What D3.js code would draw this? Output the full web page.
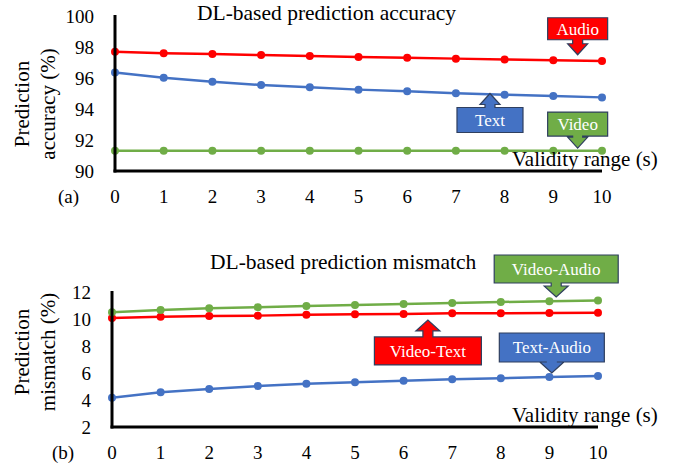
<!DOCTYPE html>
<html>
<head>
<meta charset="utf-8">
<script src="https://cdnjs.cloudflare.com/ajax/libs/d3/7.8.5/d3.min.js"></script>
<style>
  html, body { margin: 0; padding: 0; background: #fff; }
</style>
</head>
<body>
<div id="chart"></div>
<script>
// validity range (s)
const validity = [0, 1, 2, 3, 4, 5, 6, 7, 8, 9, 10];

// (a) prediction accuracy (%)
const accAudio = [97.7, 97.6, 97.55, 97.48, 97.42, 97.36, 97.3, 97.25, 97.2, 97.15, 97.1];
const accText  = [96.35, 96.02, 95.76, 95.55, 95.4, 95.25, 95.15, 95.02, 94.92, 94.84, 94.75];
const accVideo = [91.3, 91.3, 91.3, 91.3, 91.3, 91.3, 91.3, 91.3, 91.3, 91.3, 91.3];
const accTicks = [90, 92, 94, 96, 98, 100];

// (b) prediction mismatch (%)
const misVideoAudio = [10.5, 10.67, 10.79, 10.87, 10.96, 11.04, 11.12, 11.19, 11.26, 11.31, 11.37];
const misVideoText  = [10.07, 10.17, 10.22, 10.25, 10.31, 10.35, 10.37, 10.42, 10.42, 10.44, 10.47];
const misTextAudio  = [4.17, 4.57, 4.81, 5.03, 5.2, 5.31, 5.43, 5.53, 5.62, 5.7, 5.78];
const misTicks = [2, 4, 6, 8, 10, 12];

const RED = "#ff0000", BLUE = "#4472c4", GREEN = "#70ad47";
const FONT = "'Liberation Serif', 'Times New Roman', Times, serif";

const panels = [
  {
    title: "DL-based prediction accuracy", titleX: 197, titleY: 20,
    tag: "(a)", tagX: 58,
    ylab: ["Prediction", "accuracy (%)"], ylabY: 104,
    xRange: [115, 602], yRange: [171, 16], yDomain: [90, 100], ticks: accTicks,
    yTickX: 94,
    series: [
      {values: accVideo, color: GREEN},
      {values: accText, color: BLUE},
      {values: accAudio, color: RED}
    ],
    notes: [
      {label: "Audio", color: RED, x: 9.5, y: 97.5, dir: "down", w: 60, h: 22, gap: 15},
      {label: "Text", color: BLUE, x: 7.7, y: 95.0, dir: "up", w: 66, h: 25, gap: 14},
      {label: "Video", color: GREEN, x: 9.5, y: 91.48, dir: "down", w: 60, h: 24, gap: 12}
    ]
  },
  {
    title: "DL-based prediction mismatch", titleX: 210, titleY: 269,
    tag: "(b)", tagX: 52,
    ylab: ["Prediction", "mismatch (%)"], ylabY: 352,
    xRange: [112, 598], yRange: [427, 292], yDomain: [2, 12], ticks: misTicks,
    yTickX: 91,
    series: [
      {values: misTextAudio, color: BLUE},
      {values: misVideoText, color: RED},
      {values: misVideoAudio, color: GREEN}
    ],
    notes: [
      {label: "Video-Audio", color: GREEN, x: 9.14, y: 11.63, dir: "down", w: 124, h: 28, gap: 14},
      {label: "Video-Text", color: RED, x: 6.5, y: 9.93, dir: "up", w: 107, h: 28, gap: 17},
      {label: "Text-Audio", color: BLUE, x: 9.05, y: 6.0, dir: "down", w: 105, h: 29, gap: 11}
    ]
  }
];

const svg = d3.select("#chart").append("svg")
  .attr("width", 682).attr("height", 464)
  .attr("font-family", FONT);

panels.forEach(p => {
  const x = d3.scaleLinear().domain([0, 10]).range(p.xRange);
  const y = d3.scaleLinear().domain(p.yDomain).range(p.yRange);
  const g = svg.append("g");

  // series lines + markers
  const line = d3.line().x((d, i) => x(validity[i])).y(d => y(d));
  p.series.forEach(s => {
    g.append("path").datum(s.values)
      .attr("d", line).attr("fill", "none")
      .attr("stroke", s.color).attr("stroke-width", 2.5);
    g.selectAll(null).data(s.values).enter().append("circle")
      .attr("cx", (d, i) => x(validity[i])).attr("cy", d => y(d))
      .attr("r", 4).attr("fill", s.color);
  });

  // axes (plain lines, no tick marks)
  const x0 = p.xRange[0], yb = p.yRange[0];
  g.append("line").attr("x1", x0).attr("x2", x0)
    .attr("y1", p.yRange[1] - 1).attr("y2", yb + 1.5)
    .attr("stroke", "#000").attr("stroke-width", 3);
  g.append("line").attr("x1", x0 - 1.5).attr("x2", p.xRange[1])
    .attr("y1", yb).attr("y2", yb)
    .attr("stroke", "#000").attr("stroke-width", 3);

  g.selectAll(null).data(p.ticks).enter().append("text")
    .attr("x", p.yTickX).attr("y", d => y(d)).attr("dy", "0.35em")
    .attr("text-anchor", "end").attr("font-size", 19).text(d => d);

  g.selectAll(null).data(validity).enter().append("text")
    .attr("x", d => x(d)).attr("y", yb + 32)
    .attr("text-anchor", "middle").attr("font-size", 19).text(d => d);

  g.append("text").attr("x", p.tagX).attr("y", yb + 32)
    .attr("font-size", 19).text(p.tag);

  g.append("text").attr("x", 512).attr("y", yb - 5)
    .attr("font-size", 21).text("Validity range (s)");

  g.append("text").attr("x", p.titleX).attr("y", p.titleY)
    .attr("font-size", 21.5).text(p.title);

  p.ylab.forEach((t, i) => {
    g.append("text")
      .attr("transform", `translate(${29 + i * 26},${p.ylabY}) rotate(-90)`)
      .attr("text-anchor", "middle").attr("font-size", 21).text(t);
  });

  // callouts with arrow
  p.notes.forEach(n => {
    const tx = x(n.x), ty = y(n.y);
    const sgn = n.dir === "down" ? -1 : 1; // box above tip when pointing down
    const headH = 11, headW = n.w > 90 ? 12 : 10, shaftW = 5;
    const edge = ty + sgn * n.gap; // box edge nearest the tip
    const headBase = ty + sgn * headH;
    const top = sgn < 0 ? edge - n.h : edge;
    const left = tx - n.w / 2, right = tx + n.w / 2;
    const pts = sgn < 0 ? [
      [left, top], [right, top], [right, edge], [tx + shaftW, edge],
      [tx + shaftW, headBase], [tx + headW, headBase], [tx, ty],
      [tx - headW, headBase], [tx - shaftW, headBase], [tx - shaftW, edge],
      [left, edge]
    ] : [
      [left, edge], [tx - shaftW, edge], [tx - shaftW, headBase],
      [tx - headW, headBase], [tx, ty], [tx + headW, headBase],
      [tx + shaftW, headBase], [tx + shaftW, edge], [right, edge],
      [right, top + n.h], [left, top + n.h]
    ];
    g.append("path").attr("d", "M" + pts.map(q => q.join(",")).join("L") + "Z")
      .attr("fill", n.color).attr("stroke", "#2f3f5f").attr("stroke-width", 1.2);
    g.append("text").attr("x", tx).attr("y", top + n.h / 2).attr("dy", "0.35em")
      .attr("text-anchor", "middle").attr("font-size", 17).attr("fill", "#fff")
      .text(n.label);
  });
});
</script>
</body>
</html>
